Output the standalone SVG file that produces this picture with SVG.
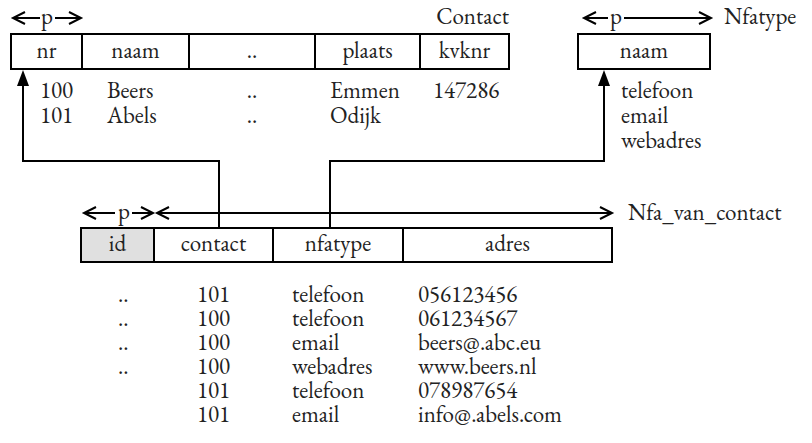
<svg xmlns="http://www.w3.org/2000/svg" width="812" height="443" viewBox="0 0 812 443" font-family="EB Garamond, Liberation Serif, serif" font-size="23">
<defs>
<style>
text{fill:#222}
.c{text-anchor:middle}
.box{fill:#fff;stroke:#000;stroke-width:2}
.ln{fill:none;stroke:#000;stroke-width:2}
.dim{fill:none;stroke:#000;stroke-width:2}
.head{fill:#000}
</style>
</defs>
<rect width="812" height="443" fill="#fff"/>

<g id="contact">
<text x="509" y="24" text-anchor="end">Contact</text>
<path class="dim" d="M13 18H40M55 18H81M25 12L13 18L25 24M69 12L81 18L69 24"/>
<text class="c" x="47" y="24">p</text>
<rect class="box" x="11" y="34" width="498" height="35"/>
<path class="ln" d="M82 34V69M189 34V69M315 34V69M420 34V69"/>
<text class="c" x="46.5" y="58">nr</text>
<text class="c" x="135.5" y="58">naam</text>
<text class="c" x="252" y="58">..</text>
<text class="c" x="367.5" y="58">plaats</text>
<text class="c" x="464.5" y="58">kvknr</text>
<text x="40" y="98">100</text>
<text x="107" y="98">Beers</text>
<text class="c" x="252" y="98">..</text>
<text x="330" y="98">Emmen</text>
<text x="433" y="98">147286</text>
<text x="40" y="123">101</text>
<text x="107" y="123">Abels</text>
<text class="c" x="252" y="123">..</text>
<text x="330" y="123">Odijk</text>
</g>

<g id="nfatype">
<text x="724" y="24">Nfatype</text>
<path class="dim" d="M584 18H608M624 18H711M596 12L584 18L596 24M699 12L711 18L699 24"/>
<text class="c" x="616" y="24">p</text>
<rect class="box" x="578" y="34" width="132" height="35"/>
<text class="c" x="644" y="58">naam</text>
<text x="621" y="98">telefoon</text>
<text x="621" y="123">email</text>
<text x="621" y="148">webadres</text>
</g>

<g id="nfa_van_contact">
<text x="628" y="220">Nfa_van_contact</text>
<path class="dim" d="M84 213H115M132 213H153M96 207L84 213L96 219M141 207L153 213L141 219"/>
<text class="c" x="124" y="219">p</text>
<path class="dim" d="M157 213H612M169 207L157 213L169 219M600 207L612 213L600 219"/>
<rect class="box" x="81" y="228" width="531" height="34"/>
<rect x="82" y="229" width="72" height="32" fill="#e0e0e0"/>
<path class="ln" d="M154 228V262M273 228V262M403 228V262"/>
<text class="c" x="117.5" y="251">id</text>
<text class="c" x="213.5" y="251">contact</text>
<text class="c" x="338" y="251">nfatype</text>
<text class="c" x="507.5" y="251">adres</text>
<g>
<text x="118" y="302">..</text><text x="197" y="302">101</text><text x="292" y="302">telefoon</text><text x="418" y="302">056123456</text>
<text x="118" y="326">..</text><text x="197" y="326">100</text><text x="292" y="326">telefoon</text><text x="418" y="326">061234567</text>
<text x="118" y="350">..</text><text x="197" y="350">100</text><text x="292" y="350">email</text><text x="418" y="350">beers@.abc.eu</text>
<text x="118" y="374">..</text><text x="197" y="374">100</text><text x="292" y="374">webadres</text><text x="418" y="374">www.beers.nl</text>
<text x="197" y="398">101</text><text x="292" y="398">telefoon</text><text x="418" y="398">078987654</text>
<text x="197" y="422">101</text><text x="292" y="422">email</text><text x="418" y="422">info@.abels.com</text>
</g>
</g>

<g id="connectors">
<path class="ln" d="M219 228V161H23V84"/>
<path class="ln" d="M330 228V161H604V84"/>
<polygon class="head" points="23,70 17,86 29,86"/>
<polygon class="head" points="604,70 598,86 610,86"/>
</g>
</svg>
